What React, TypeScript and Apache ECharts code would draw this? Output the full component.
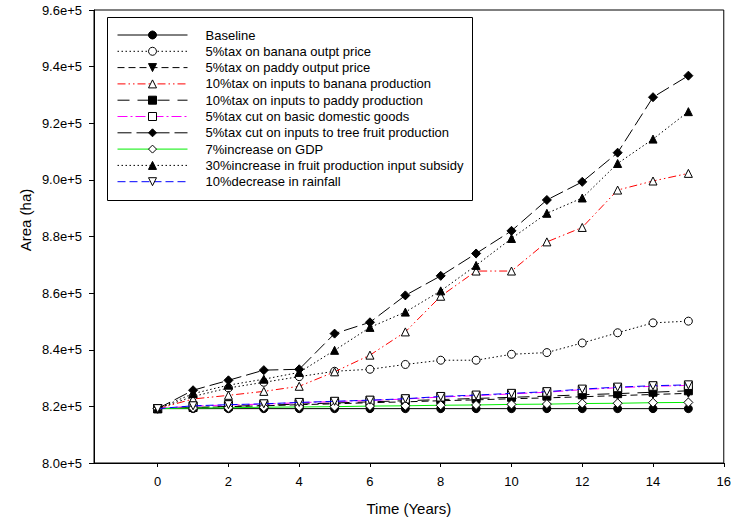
import React, { useEffect, useRef } from "react";
import * as echarts from "echarts";

const years = [0, 1, 2, 3, 4, 5, 6, 7, 8, 9, 10, 11, 12, 13, 14, 15];
const xTickValues = [0, 2, 4, 6, 8, 10, 12, 14, 16];

const seriesNames = [
  "Baseline",
  "5%tax on banana outpt price",
  "5%tax on paddy output price",
  "10%tax on inputs to banana production",
  "10%tax on inputs to paddy production",
  "5%tax cut on basic domestic goods",
  "5%tax cut on inputs to tree fruit production",
  "7%increase on GDP",
  "30%increase in fruit production input subsidy",
  "10%decrease in rainfall",
];

const baseline = [819200, 819200, 819200, 819200, 819200, 819200, 819200, 819200, 819200, 819200, 819200, 819200, 819200, 819200, 819200, 819200];
const bananaOutput = [819200, 823500, 826500, 828500, 830500, 832400, 833100, 834800, 836300, 836300, 838400, 839000, 842400, 846000, 849500, 850100];
const paddyOutput = [819200, 819500, 819900, 820200, 820600, 820900, 821300, 821600, 822000, 822300, 822700, 823000, 823400, 823800, 824200, 824600];
const bananaInputs = [819200, 822600, 823900, 825300, 827100, 832200, 838100, 846300, 858900, 867800, 867800, 878100, 883200, 896400, 899600, 902300];
const paddyInputs = [819200, 819600, 820000, 820400, 820800, 821200, 821600, 822000, 822400, 822800, 823200, 823600, 824100, 824500, 825000, 825500];
const basicGoods = [819200, 820100, 820500, 820800, 821300, 821700, 822100, 822600, 823300, 823800, 824400, 825000, 825900, 826600, 827100, 827400];
const treeFruit = [819200, 825700, 829200, 832800, 833100, 845700, 849700, 859200, 866100, 874000, 882000, 892900, 899300, 909600, 929200, 936800];
const gdp = [819200, 819400, 819500, 819700, 819800, 819900, 820100, 820200, 820400, 820500, 820700, 820800, 821000, 821100, 821300, 821400];
const subsidy = [819200, 824500, 827500, 829600, 832000, 839800, 847900, 853300, 860800, 869800, 879300, 888200, 893600, 905800, 914400, 924100];
const rainfall = [819200, 820200, 820600, 820900, 821400, 821800, 822200, 822700, 823500, 824000, 824600, 825200, 826100, 826800, 827300, 827600];

const FONT = "Liberation Sans, Arial, Helvetica, sans-serif";

type Sty = {
  values: number[];
  lineColor: string;
  dash: number[] | "solid";
  symbol: string;
  rotate: number;
  fill: string;
};

const styles: Sty[] = [
  { values: baseline, lineColor: "#000", dash: "solid", symbol: "circle", rotate: 0, fill: "#000" },
  { values: bananaOutput, lineColor: "#000", dash: [1.5, 2.5], symbol: "circle", rotate: 0, fill: "#fff" },
  { values: paddyOutput, lineColor: "#000", dash: [7, 4], symbol: "triangle", rotate: 180, fill: "#000" },
  { values: bananaInputs, lineColor: "#ff0000", dash: [8, 3, 1.5, 3, 1.5, 3], symbol: "triangle", rotate: 0, fill: "#fff" },
  { values: paddyInputs, lineColor: "#000", dash: [12, 8], symbol: "rect", rotate: 0, fill: "#000" },
  { values: basicGoods, lineColor: "#ff00ff", dash: [10, 3, 2, 3], symbol: "rect", rotate: 0, fill: "#fff" },
  { values: treeFruit, lineColor: "#000", dash: [14, 5], symbol: "diamond", rotate: 0, fill: "#000" },
  { values: gdp, lineColor: "#00ee00", dash: "solid", symbol: "diamond", rotate: 0, fill: "#fff" },
  { values: subsidy, lineColor: "#000", dash: [1.5, 2.5], symbol: "triangle", rotate: 0, fill: "#000" },
  { values: rainfall, lineColor: "#0000ff", dash: [8, 4], symbol: "triangle", rotate: 180, fill: "#fff" },
];

export default function App() {
  const ref = useRef<HTMLDivElement>(null);
  useEffect(() => {
    if (!ref.current) return;
    const chart = echarts.init(ref.current, undefined, { renderer: "svg" });
    const series = styles.map((s, i) => ({
      name: seriesNames[i],
      type: "line",
      data: years.map((y, k) => [y, s.values[k]]),
      symbol: s.symbol,
      symbolSize: s.symbol === "diamond" ? 9 : 8,
      symbolRotate: s.rotate,
      showAllSymbol: true,
      lineStyle: { color: s.lineColor, width: 1, type: s.dash },
      itemStyle: { color: s.fill, borderColor: "#000", borderWidth: 1 },
      emphasis: { disabled: true },
      z: 2 + i,
    }));
    chart.setOption({
      animation: false,
      grid: {
        left: 94,
        right: 10,
        top: 10,
        bottom: 62,
        show: true,
        borderColor: "#000",
        borderWidth: 1,
      },
      xAxis: {
        type: "value",
        min: -1.8,
        max: 16,
        name: "Time (Years)",
        nameLocation: "middle",
        nameGap: 38,
        nameTextStyle: { fontFamily: FONT, fontSize: 15, color: "#000" },
        axisLine: { show: true, onZero: false, lineStyle: { color: "#000", width: 1 } },
        axisTick: { show: true, length: 4, customValues: xTickValues, lineStyle: { color: "#000" } },
        axisLabel: { customValues: xTickValues, margin: 12, fontFamily: FONT, fontSize: 13, color: "#000" },
        splitLine: { show: false },
      },
      yAxis: {
        type: "value",
        min: 800000,
        max: 960000,
        interval: 20000,
        axisLine: { show: true, onZero: false, lineStyle: { color: "#000", width: 1 } },
        axisTick: { show: true, length: 5, lineStyle: { color: "#000" } },
        axisLabel: {
          margin: 12,
          fontFamily: FONT,
          fontSize: 13,
          color: "#000",
          formatter: (v: number) => (v / 100000).toFixed(1) + "e+5",
        },
        splitLine: { show: false },
      },
      legend: {
        orient: "vertical",
        left: 117,
        top: 28,
        padding: 0,
        itemWidth: 70,
        itemHeight: 10,
        itemGap: 2.3,
        selectedMode: false,
        textStyle: { fontFamily: FONT, fontSize: 13, color: "#000", lineHeight: 14, padding: [0, 0, 0, 13] },
        data: styles.map((s, i) => ({
          name: seriesNames[i],
          itemStyle: { color: s.fill, borderColor: "#000", borderWidth: 1 },
          lineStyle: { color: s.lineColor, width: 1, type: s.dash },
        })),
      },
      graphic: [
        {
          type: "rect",
          shape: { x: 107.5, y: 17.5, width: 365, height: 183 },
          style: { fill: "none", stroke: "#000", lineWidth: 1 },
          z: 1,
        },
        {
          type: "text",
          x: 25,
          y: 220,
          rotation: Math.PI / 2,
          style: {
            text: "Area (ha)",
            fontFamily: FONT,
            fontSize: 15,
            fill: "#000",
            textAlign: "center",
            textVerticalAlign: "middle",
          },
        },
      ],
      series,
    });
    return () => chart.dispose();
  }, []);
  return <div ref={ref} style={{ position: "fixed", left: 0, top: 0, width: 734, height: 525, background: "#fff" }} />;
}
